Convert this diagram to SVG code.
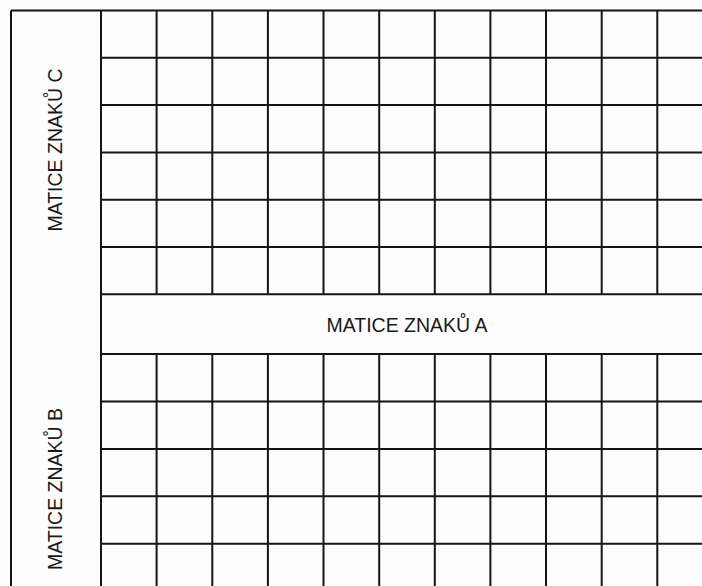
<svg xmlns="http://www.w3.org/2000/svg" width="702" height="586" viewBox="0 0 702 586">
<style>
.ln{stroke:#151515;stroke-width:2;fill:none}
.lbl{font-family:"Liberation Sans",Arial,sans-serif;font-size:19.5px;fill:#1a1a1a;text-anchor:middle}
</style>
<rect width="702" height="586" fill="#fdfdfd"/>
<g id="grid" class="ln">
<path d="M11 10.5H702M11 10.5V586M101 10.5V586"/>
<path d="M101 57.8H702M101 105.1H702M101 152.4H702M101 199.7H702M101 247H702M101 294.3H702M101 354H702M101 401.4H702M101 448.9H702M101 496.3H702M101 543.7H702"/>
<path d="M156.6 10.5V294.3M212.3 10.5V294.3M267.9 10.5V294.3M323.5 10.5V294.3M379.2 10.5V294.3M434.8 10.5V294.3M490.4 10.5V294.3M546 10.5V294.3M601.7 10.5V294.3M657.3 10.5V294.3"/>
<path d="M156.6 354V586M212.3 354V586M267.9 354V586M323.5 354V586M379.2 354V586M434.8 354V586M490.4 354V586M546 354V586M601.7 354V586M657.3 354V586"/>
</g>
<g id="label-c"><text class="lbl" transform="translate(61.5 150) rotate(-90)">MATICE ZNAKŮ C</text></g>
<g id="label-a"><text class="lbl" x="407" y="331.5">MATICE ZNAKŮ A</text></g>
<g id="label-b"><text class="lbl" transform="translate(61.5 489) rotate(-90)">MATICE ZNAKŮ B</text></g>
</svg>
